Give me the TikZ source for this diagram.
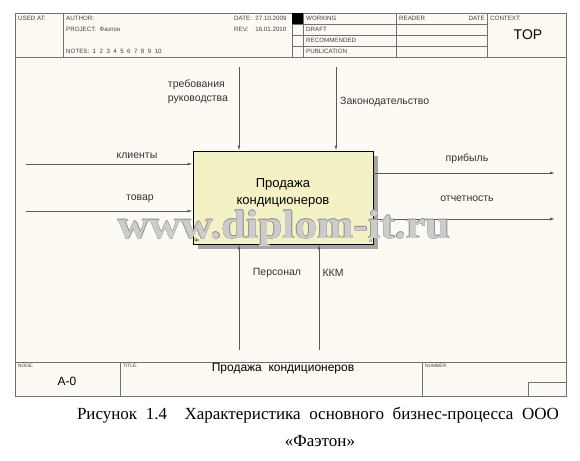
\documentclass[tikz,border=0pt]{standalone}
\usepackage{fontspec}
\setmainfont{Liberation Sans}
\newfontfamily\capfont{Liberation Serif}
\usetikzlibrary{arrows.meta, calc}

\definecolor{paper}{HTML}{FCFAF2}
\definecolor{boxfill}{HTML}{F4F2C4}
\definecolor{frameline}{HTML}{707070}

\tikzset{
  tiny/.style={font=\fontsize{6.2}{7}\selectfont, anchor=west, inner sep=0pt, text=black!75},
  small/.style={font=\fontsize{4.8}{5}\selectfont, anchor=west, inner sep=0pt, text=black!75},
  lbl/.style={font=\fontsize{10.5}{12}\selectfont, inner sep=1pt, text=black!80},
  arr/.style={draw=black!65, line width=0.8pt, -{Latex[length=5pt,width=3pt]}},
  grid/.style={draw=frameline, line width=0.6pt},
  wm/.style={font=\capfont\bfseries\fontsize{40}{42}\selectfont, xscale=1.1, anchor=base, inner sep=0pt}
}

\begin{document}
\begin{tikzpicture}[x=1pt, y=-1pt]
        \useasboundingbox (0,0) rectangle (580,460);
        \fill[white] (0,0) rectangle (580,460);

        % frame
        \fill[paper] (15,13) rectangle (566,396);
        \draw[grid, line width=0.9pt] (15,13) rectangle (566,396);
        \draw[grid] (15,57) -- (566,57);
        \draw[grid] (15,362) -- (566,362);

        % header
        \draw[grid] (63,13) -- (63,57);
        \draw[grid] (292,13) -- (292,57);
        \draw[grid] (303,13) -- (303,57);
        \draw[grid] (396,13) -- (396,57);
        \draw[grid] (487,13) -- (487,57);
        \draw[grid] (292,24) -- (487,24);
        \draw[grid] (292,35) -- (487,35);
        \draw[grid] (292,46) -- (487,46);
        \fill[black] (292,13) rectangle (303,24);

        \node[tiny] (usedat) at (18,18) {USED AT:};
        \node[tiny] (author) at (66,18) {AUTHOR:};
        \node[tiny] (project) at (66,29) {PROJECT:\ \ Фаэтон};
        \node[tiny] (notes) at (66,51) {NOTES:\ \ 1\ \ 2\ \ 3\ \ 4\ \ 5\ \ 6\ \ 7\ \ 8\ \ 9\ \ 10};
        \node[tiny] (date) at (234,18) {DATE:\ \ 27.10.2009};
        \node[tiny] (rev) at (234,29) {REV:\ \ \ \ 16.01.2010};
        \node[tiny] (working) at (306,18) {WORKING};
        \node[tiny] (draft) at (306,29) {DRAFT};
        \node[tiny] (recom) at (306,40) {RECOMMENDED};
        \node[tiny] (publ) at (306,51) {PUBLICATION};
        \node[tiny] (reader) at (399,18) {READER};
        \node[tiny, anchor=east] (rdate) at (485,18) {DATE};
        \node[tiny] (context) at (490,18) {CONTEXT:};
        \node[font=\fontsize{14}{15}\selectfont, inner sep=0pt] (top) at (528,35) {TOP};

        % footer
        \draw[grid] (120,362) -- (120,396);
        \draw[grid] (422,362) -- (422,396);
        \draw[grid] (528,396) -- (528,382) -- (566,382);
        \node[small] (nodelbl) at (18,366) {NODE:};
        \node[small] (titlelbl) at (123,366) {TITLE:};
        \node[small] (numlbl) at (425,366) {NUMBER:};
        \node[font=\fontsize{12}{13}\selectfont, inner sep=0pt] (anode) at (67,381) {A-0};
        \node[font=\fontsize{12}{13}\selectfont, inner sep=0pt] (title) at (283,369) {Продажа\ \ кондиционеров};

        % activity box
        \fill[black!35] (198,156) rectangle (378,249);
        \node[draw=black, line width=0.9pt, fill=boxfill, minimum width=180pt, minimum height=93pt] (box) at (283,197.5) {};
        \node[align=center, font=\fontsize{13}{17}\selectfont, inner sep=0pt] (boxtext) at (283,193) {Продажа\\кондиционеров};
        \node[font=\fontsize{4}{4}\selectfont, anchor=south west, inner sep=1.5pt] (boxnum) at (box.south west) {0р.};
        \node[font=\fontsize{4}{4}\selectfont, anchor=south east, inner sep=1.5pt] (boxcost) at (box.south east) {0};

        % arrows
        \coordinate (in1) at (26,164);
        \coordinate (in2) at (26,211);
        \coordinate (ctl1) at (239,67);
        \coordinate (ctl2) at (336,67);
        \coordinate (mech1) at (239,350);
        \coordinate (mech2) at (319,350);
        \coordinate (out1) at (555,173);
        \coordinate (out2) at (555,219);

        \draw[arr] (in1) -- (in1 -| box.west);
        \draw[arr] (in2) -- (in2 -| box.west);
        \draw[arr] (ctl1) -- (ctl1 |- box.north);
        \draw[arr] (ctl2) -- (ctl2 |- box.north);
        \draw[arr] (mech1) -- (mech1 |- box.south);
        \draw[arr] (mech2) -- (mech2 |- box.south);
        \draw[arr] (out1 -| box.east) -- (out1);
        \draw[arr] (out2 -| box.east) -- (out2);

        \node[lbl] (klienty) at (137,156) {клиенты};
        \node[lbl] (tovar) at (140,199) {товар};
        \node[lbl, align=left, font=\fontsize{10.5}{14}\selectfont] (trebov) at (198,92) {требования\\руководства};
        \node[lbl, anchor=west] (zakon) at (339,102) {Законодательство};
        \node[lbl] (pribyl) at (467,159) {прибыль};
        \node[lbl] (otchet) at (467,199) {отчетность};
        \node[lbl] (personal) at (277,273) {Персонал};
        \node[lbl] (kkm) at (333,273) {ККМ};

        % watermark
        \foreach \dx/\dy in {-0.45/0, 0.45/0, 0/-0.45, 0/0.45}
          \node[wm, text=black!45] at (284+\dx,238+\dy) {www.diplom-it.ru};
        \node[wm, text=black!20] (wmark) at (284,238) {www.diplom-it.ru};

        % caption
        \node[font=\capfont\fontsize{17}{18}\selectfont, anchor=base] (cap1) at (318,419)
          {\makebox[482pt][s]{Рисунок 1.4\ \ Характеристика основного бизнес-процесса ООО}};
        \node[font=\capfont\fontsize{17}{18}\selectfont, anchor=base] (cap2) at (320,446) {«Фаэтон»};
    \end{tikzpicture}
\end{document}
